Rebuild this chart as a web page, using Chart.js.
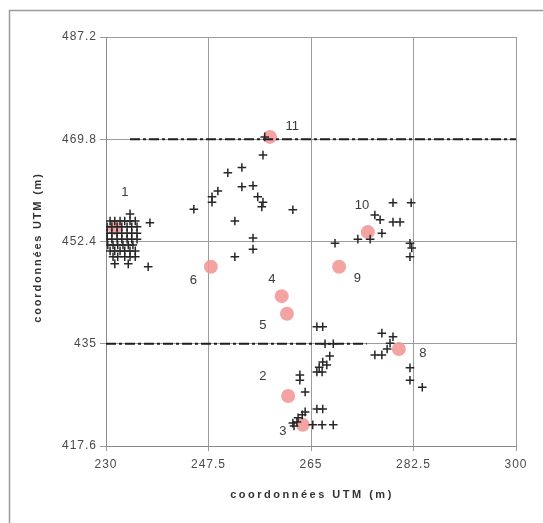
<!DOCTYPE html>
<html><head><meta charset="utf-8">
<script src="https://cdn.jsdelivr.net/npm/chart.js@4"></script>
<style>html,body{margin:0;padding:0;background:#fff}</style>
</head><body>
<canvas id="c" width="543" height="523"></canvas>
<script>
const xTicks = [230, 247.5, 265, 282.5, 300];
const yTicks = [417.6, 435, 452.4, 469.8, 487.2];

// crosses, west cluster (site 1)
const group1 = [
 [234.1,457.1],
 [230.7,455.9],[231.5,455.9],[232.4,455.9],[233.2,455.9],[234.1,455.9],[235.0,455.9],
 [230.2,454.9],[231.0,454.9],[231.9,454.9],[232.7,454.9],[233.6,454.9],[234.4,454.9],[235.3,454.9],
 [230.2,453.8],[231.0,453.8],[231.9,453.8],[232.7,453.8],[233.6,453.8],[234.4,453.8],[235.3,453.8],
 [230.2,452.8],[231.0,452.8],[231.9,452.8],[232.7,452.8],[233.6,452.8],[234.4,452.8],[235.3,452.8],
 [230.3,451.8],[231.2,451.8],[232.0,451.8],[232.9,451.8],[233.8,451.8],[234.6,451.8],
 [230.7,450.8],[231.5,450.8],[232.4,450.8],[233.2,450.8],[234.1,450.8],[235.0,450.8],
 [231.2,449.8],[232.0,449.8],[233.2,449.8],[234.1,449.8],[235.0,449.8],
 [231.5,448.6],[233.8,448.6],
 [237.5,455.6],[237.2,448.1]
];
// crosses, north-centre
const groupNorth = [
 [256.8,467.1],[257.1,470.2],[250.8,464.1],[253.2,465.0],[253.2,461.7],[255.1,461.9],
 [249.1,461.0],[248.1,460.0],[248.1,459.1],[255.9,460.0],[256.8,459.1],[256.6,458.3],
 [245.0,457.9],[261.9,457.8],[252.0,455.9],[255.1,453.0],[255.1,451.1],[252.0,449.8]
];
// crosses, north-east
const groupEast = [
 [279.0,459.0],[282.1,459.0],[275.9,456.9],[276.8,456.1],[279.0,455.7],[280.2,455.7],
 [277.1,453.8],[275.1,452.8],[273.0,452.8],[269.1,452.1],[281.9,452.1],[282.2,451.3],[281.9,449.8]
];
// crosses, south-east
const groupSouthEast = [
 [277.1,436.8],[279.0,436.2],[278.5,435.1],[278.0,434.1],[275.9,433.1],[277.1,433.1],
 [281.9,430.9],[281.9,428.8],[284.0,427.6]
];
// crosses, south-centre
const groupSouth = [
 [266.0,437.9],[267.0,437.9],[267.4,435.0],[268.8,435.0],[268.2,432.9],[267.0,431.9],
 [267.7,431.4],[266.4,431.0],[266.0,430.2],[266.9,430.2],[263.1,429.7],[263.1,428.8],
 [264.0,426.8],[266.0,423.9],[267.0,423.9],[264.0,423.4],[263.5,422.9],[262.8,422.4],
 [261.9,421.5],[262.6,421.7],[265.3,421.2],[266.9,421.2],[268.8,421.2],[262.1,421.0]
];
// site centres (pink circles)
const siteX = [231.5, 261.1, 263.6, 260.0, 260.9, 247.9, 280.0, 269.8, 274.7, 258.0];
const siteY = [454.7, 426.1, 421.2, 443.1, 440.1, 448.1, 434.1, 448.1, 454.0, 470.2];
// site numbers
const labelText = ['1','2','3','4','5','6','8','9','10','11'];
const labelX = [233.2, 256.8, 260.2, 258.3, 256.8, 244.9, 284.1, 272.9, 273.7, 261.8];
const labelY = [460.8, 429.5, 420.0, 446.0, 438.2, 445.8, 433.4, 446.2, 458.6, 471.9];
// dashed transects
const transectNorthX = [234.1, 300];
const transectNorthY = [469.8, 469.8];
const transectSouthX = [230, 274.5];
const transectSouthY = [435, 435];

const pts = a => a.map(p => ({x:p[0], y:p[1]}));
const zip = (xs, ys) => xs.map((x,i) => ({x, y:ys[i]}));
const crossStyle = {pointStyle:'cross', pointRadius:4.3, pointBorderWidth:1.5,
  pointBorderColor:'#262626', pointBackgroundColor:'#262626', showLine:false, order:0};

const framePlugin = {
 id:'frame',
 beforeDraw(chart){
  const c = chart.ctx;
  c.save();
  c.fillStyle = '#fff'; c.fillRect(0,0,chart.width,chart.height);
  c.strokeStyle = '#9a9a9a'; c.lineWidth = 1.5;
  c.beginPath(); c.moveTo(9.5, chart.height); c.lineTo(9.5, 10.5); c.lineTo(chart.width, 10.5); c.stroke();
  c.restore();
  c.letterSpacing = '1px';
 },
 afterDatasetsDraw(chart){
  const c = chart.ctx, sx = chart.scales.x, sy = chart.scales.y;
  c.save();
  c.letterSpacing = '0px';
  c.font = '13px "Liberation Sans", Arial, sans-serif';
  c.fillStyle = '#3a3a3a'; c.textAlign = 'center'; c.textBaseline = 'middle';
  labelText.forEach((t,i) => c.fillText(t, sx.getPixelForValue(labelX[i]), sy.getPixelForValue(labelY[i])));
  c.restore();
 },
 afterDraw(chart){
  const c = chart.ctx, a = chart.chartArea;
  c.save();
  c.fillStyle = '#333'; c.textAlign = 'center'; c.textBaseline = 'middle';
  c.font = 'bold 11px "Liberation Sans", Arial, sans-serif';
  c.letterSpacing = '2.5px';
  c.fillText('coordonnées UTM (m)', (a.left + a.right)/2 + 1, a.bottom + 49);
  c.letterSpacing = '1.8px';
  c.translate(38, (a.top + a.bottom)/2 + 6);
  c.rotate(-Math.PI/2);
  c.fillText('coordonnées UTM (m)', 0, 0);
  c.restore();
 }
};

new Chart(document.getElementById('c'), {
 type:'scatter',
 data:{datasets:[
  Object.assign({data:pts(group1)}, crossStyle),
  Object.assign({data:pts(groupNorth)}, crossStyle),
  Object.assign({data:pts(groupEast)}, crossStyle),
  Object.assign({data:pts(groupSouthEast)}, crossStyle),
  Object.assign({data:pts(groupSouth)}, crossStyle),
  {data:zip(siteX, siteY), pointStyle:'circle', pointRadius:7, pointBorderWidth:0,
   pointBackgroundColor:'rgba(242,150,150,0.88)', showLine:false, order:2},
  {data:zip(transectNorthX, transectNorthY), showLine:true, pointRadius:0,
   borderColor:'#1e1e1e', borderWidth:2, borderDash:[10,3,3,3], order:1},
  {data:zip(transectSouthX, transectSouthY), showLine:true, pointRadius:0,
   borderColor:'#1e1e1e', borderWidth:2, borderDash:[10,3,3,3], order:1}
 ]},
 options:{
  responsive:false, animation:false, devicePixelRatio:1,
  layout:{padding:{left:0, top:37, right:27, bottom:0}},
  plugins:{legend:{display:false}, tooltip:{enabled:false}},
  scales:{
   x:{type:'linear', min:230, max:300,
      afterBuildTicks:s => { s.ticks = xTicks.map(v => ({value:v})); },
      afterFit:s => { s.height = 77; },
      ticks:{color:'#4a4a4a', font:{family:'"Liberation Sans", Arial, sans-serif', size:12}, padding:6,
             callback:v => String(v), maxRotation:0, autoSkip:false},
      grid:{color:'#9c9c9c', lineWidth:1, tickLength:5, drawTicks:true},
      border:{color:'#8a8a8a', width:1}},
   y:{type:'linear', min:417.6, max:487.2,
      afterBuildTicks:s => { s.ticks = yTicks.map(v => ({value:v})); },
      afterFit:s => { s.width = 106; },
      ticks:{color:'#4a4a4a', font:{family:'"Liberation Sans", Arial, sans-serif', size:12}, padding:3,
             callback:v => String(v), autoSkip:false},
      grid:{color:'#9c9c9c', lineWidth:1, tickLength:6, drawTicks:true},
      border:{color:'#8a8a8a', width:1}}
  }
 },
 plugins:[framePlugin]
});
</script>
</body></html>
